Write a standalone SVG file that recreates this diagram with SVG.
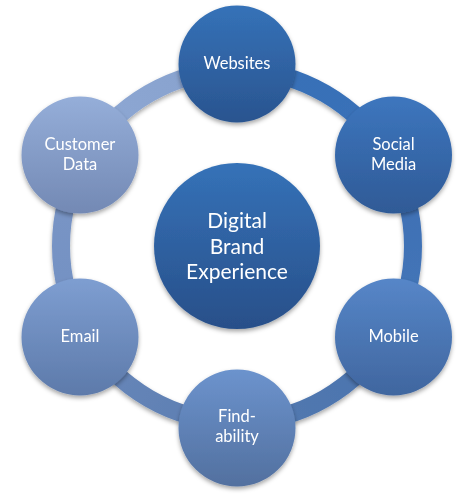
<svg xmlns="http://www.w3.org/2000/svg" width="472" height="497" viewBox="0 0 472 497">
  <style>
    .ring { fill: none; stroke-width: 18; }
    .lbl { font-family: Lato, "Open Sans", "Liberation Sans", sans-serif; fill: #ffffff; text-anchor: middle; font-size: 16.5px; }
    .big { font-size: 21px; }
  </style>
  <defs>
    <filter id="sh" x="-20%" y="-20%" width="140%" height="150%">
      <feDropShadow dx="0" dy="2.5" stdDeviation="2" flood-color="#000" flood-opacity="0.35"/>
    </filter>
    <linearGradient id="gWeb" x1="0" y1="0" x2="0" y2="1"><stop offset="0" stop-color="#3572b8"/><stop offset="1" stop-color="#2a548f"/></linearGradient>
    <linearGradient id="gSoc" x1="0" y1="0" x2="0" y2="1"><stop offset="0" stop-color="#3d76be"/><stop offset="1" stop-color="#2f5a96"/></linearGradient>
    <linearGradient id="gMob" x1="0" y1="0" x2="0" y2="1"><stop offset="0" stop-color="#5686c8"/><stop offset="1" stop-color="#40669f"/></linearGradient>
    <linearGradient id="gFind" x1="0" y1="0" x2="0" y2="1"><stop offset="0" stop-color="#6c93cd"/><stop offset="1" stop-color="#52709f"/></linearGradient>
    <linearGradient id="gMail" x1="0" y1="0" x2="0" y2="1"><stop offset="0" stop-color="#7e9ed1"/><stop offset="1" stop-color="#5d7aaa"/></linearGradient>
    <linearGradient id="gCust" x1="0" y1="0" x2="0" y2="1"><stop offset="0" stop-color="#95aed9"/><stop offset="1" stop-color="#7389b4"/></linearGradient>
    <linearGradient id="gCtr" x1="0" y1="0" x2="0" y2="1"><stop offset="0" stop-color="#3572b8"/><stop offset="1" stop-color="#284f89"/></linearGradient>
    <linearGradient id="r1" gradientUnits="userSpaceOnUse" x1="237" y1="70" x2="389" y2="158"><stop offset="0" stop-color="#3670b7"/><stop offset="1" stop-color="#3b71b8"/></linearGradient>
    <linearGradient id="r2" gradientUnits="userSpaceOnUse" x1="389" y1="158" x2="389" y2="334"><stop offset="0" stop-color="#3c6fb4"/><stop offset="1" stop-color="#4676b8"/></linearGradient>
    <linearGradient id="r3" gradientUnits="userSpaceOnUse" x1="389" y1="334" x2="237" y2="422"><stop offset="0" stop-color="#4a74b0"/><stop offset="1" stop-color="#5479ae"/></linearGradient>
    <linearGradient id="r4" gradientUnits="userSpaceOnUse" x1="237" y1="422" x2="85" y2="334"><stop offset="0" stop-color="#5b7db1"/><stop offset="1" stop-color="#6a88ba"/></linearGradient>
    <linearGradient id="r5" gradientUnits="userSpaceOnUse" x1="85" y1="334" x2="85" y2="158"><stop offset="0" stop-color="#7290c2"/><stop offset="1" stop-color="#7b96c6"/></linearGradient>
    <linearGradient id="r6" gradientUnits="userSpaceOnUse" x1="85" y1="158" x2="237" y2="70"><stop offset="0" stop-color="#8ea8d4"/><stop offset="1" stop-color="#87a1cd"/></linearGradient>
  </defs>
  <rect width="472" height="497" fill="#ffffff"/>

  <g id="connectors" filter="url(#sh)">
    <path class="ring" stroke="url(#r1)" d="M237,70 A176,176 0 0 1 389.42,158"/>
    <path class="ring" stroke="url(#r2)" d="M389.42,158 A176,176 0 0 1 389.42,334"/>
    <path class="ring" stroke="url(#r3)" d="M389.42,334 A176,176 0 0 1 237,422"/>
    <path class="ring" stroke="url(#r4)" d="M237,422 A176,176 0 0 1 84.58,334"/>
    <path class="ring" stroke="url(#r5)" d="M84.58,334 A176,176 0 0 1 84.58,158"/>
    <path class="ring" stroke="url(#r6)" d="M84.58,158 A176,176 0 0 1 237,70"/>
  </g>

  <g id="center" filter="url(#sh)">
    <circle cx="237" cy="246" r="83" fill="url(#gCtr)"/>
    <text class="lbl big" x="237" y="228">Digital</text>
    <text class="lbl big" x="237" y="253.5">Brand</text>
    <text class="lbl big" x="237" y="279">Experience</text>
  </g>

  <g id="websites" filter="url(#sh)">
    <circle cx="237" cy="64" r="58.5" fill="url(#gWeb)"/>
    <text class="lbl" x="237" y="69">Websites</text>
  </g>

  <g id="social-media" filter="url(#sh)">
    <circle cx="393.5" cy="155" r="58.5" fill="url(#gSoc)"/>
    <text class="lbl" x="393.5" y="150">Social</text>
    <text class="lbl" x="393.5" y="170">Media</text>
  </g>

  <g id="mobile" filter="url(#sh)">
    <circle cx="393.5" cy="337" r="58.5" fill="url(#gMob)"/>
    <text class="lbl" x="393.5" y="342">Mobile</text>
  </g>

  <g id="findability" filter="url(#sh)">
    <circle cx="237" cy="428" r="58.5" fill="url(#gFind)"/>
    <text class="lbl" x="237" y="422">Find-</text>
    <text class="lbl" x="237" y="442">ability</text>
  </g>

  <g id="email" filter="url(#sh)">
    <circle cx="80" cy="337" r="58.5" fill="url(#gMail)"/>
    <text class="lbl" x="80" y="342">Email</text>
  </g>

  <g id="customer-data" filter="url(#sh)">
    <circle cx="80" cy="155" r="58.5" fill="url(#gCust)"/>
    <text class="lbl" x="80" y="150">Customer</text>
    <text class="lbl" x="80" y="170">Data</text>
  </g>
</svg>
